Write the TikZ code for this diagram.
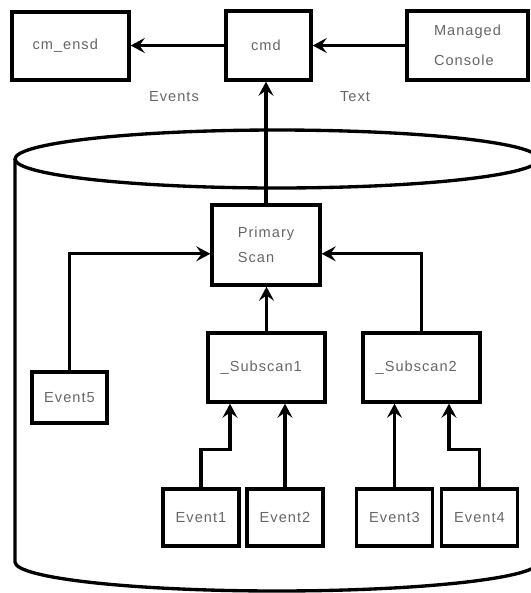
\documentclass[tikz,border=0pt]{standalone}
\usepackage{fontspec}
\setmainfont{Liberation Sans}
\usepackage{tikz}
\usetikzlibrary{arrows.meta}
\definecolor{txtgray}{gray}{0.4}

\begin{document}
\begin{tikzpicture}[x=0.02cm,y=0.02cm,
  box/.style={draw,line width=1.9pt,rectangle,inner sep=0pt,align=left},
  flow/.style={line width=1.9pt,-{Stealth[length=8pt,width=8.5pt,inset=3pt]}},
  txt/.style={font=\fontsize{8.3}{10}\selectfont\addfontfeatures{LetterSpace=7},text=txtgray}]
\useasboundingbox (0,0) rectangle (531,-593);
\clip (0,0) rectangle (531,-593);
% cylinder
\draw[line width=1.9pt] (277,-159) ellipse [x radius=5.24cm, y radius=0.58cm];
\draw[line width=1.9pt] (15,-159) -- (15,-562) arc[start angle=180,end angle=360,x radius=5.24cm,y radius=0.58cm];

\node[box,txt,minimum width=2.34cm,minimum height=1.36cm] (ensd) at (70.5,-46) {cm\_ensd\hspace{6pt}};
\node[box,txt,minimum width=1.7cm,minimum height=1.38cm] (cmd) at (268.5,-45.5) {cmd\hspace{3pt}};
\node[box,txt,minimum width=2.42cm,minimum height=1.38cm] (mc) at (467.5,-45.5) {Managed\\[7pt]Console\hspace{6pt}};
\node[txt] (events) at (174,-97) {Events};
\node[txt] (text) at (355,-97) {Text};

\node[box,txt,minimum width=2.16cm,minimum height=1.6cm] (ps) at (266,-245) {Primary\hspace{6pt}\\[4pt]Scan};
\node[box,txt,minimum width=2.34cm,minimum height=1.38cm] (sub1) at (266.5,-367.5) {\_Subscan1\hspace{6pt}};
\node[box,txt,minimum width=2.34cm,minimum height=1.38cm] (sub2) at (421.5,-367.5) {\_Subscan2\hspace{6pt}};
\node[box,txt,minimum width=1.5cm,minimum height=1.02cm] (ev5) at (69.5,-397.5) {Event5};
\node[box,txt,minimum width=1.52cm,minimum height=1.14cm] (ev1) at (201,-517.5) {Event1};
\node[box,txt,minimum width=1.52cm,minimum height=1.14cm] (ev2) at (285,-517.5) {Event2};
\node[box,txt,minimum width=1.52cm,minimum height=1.14cm] (ev3) at (394.5,-517.5) {Event3};
\node[box,txt,minimum width=1.52cm,minimum height=1.14cm] (ev4) at (479.5,-517.5) {Event4};

% connectors
\draw[flow] (cmd.west) -- (cmd.west -| ensd.east);
\draw[flow] (mc.west) -- (mc.west -| cmd.east);
\draw[flow] (ps.north) -- (ps.north |- cmd.south);
\draw[flow] (sub1.north) -- (sub1.north |- ps.south);
\draw[flow] (ev5.north) |- ([yshift=-5pt]ps.west);
\draw[flow] (sub2.north) |- ([yshift=-5pt]ps.east);
\draw[flow] (ev1.north) -- ++(0,38) -| ([xshift=-0.73cm]sub1.south);
\draw[flow] (ev2.north) -- (ev2.north |- sub1.south);
\draw[flow] (ev3.north) -- (ev3.north |- sub2.south);
\draw[flow] (ev4.north) -- ++(0,38) -| ([xshift=0.55cm]sub2.south);
\end{tikzpicture}
\end{document}
